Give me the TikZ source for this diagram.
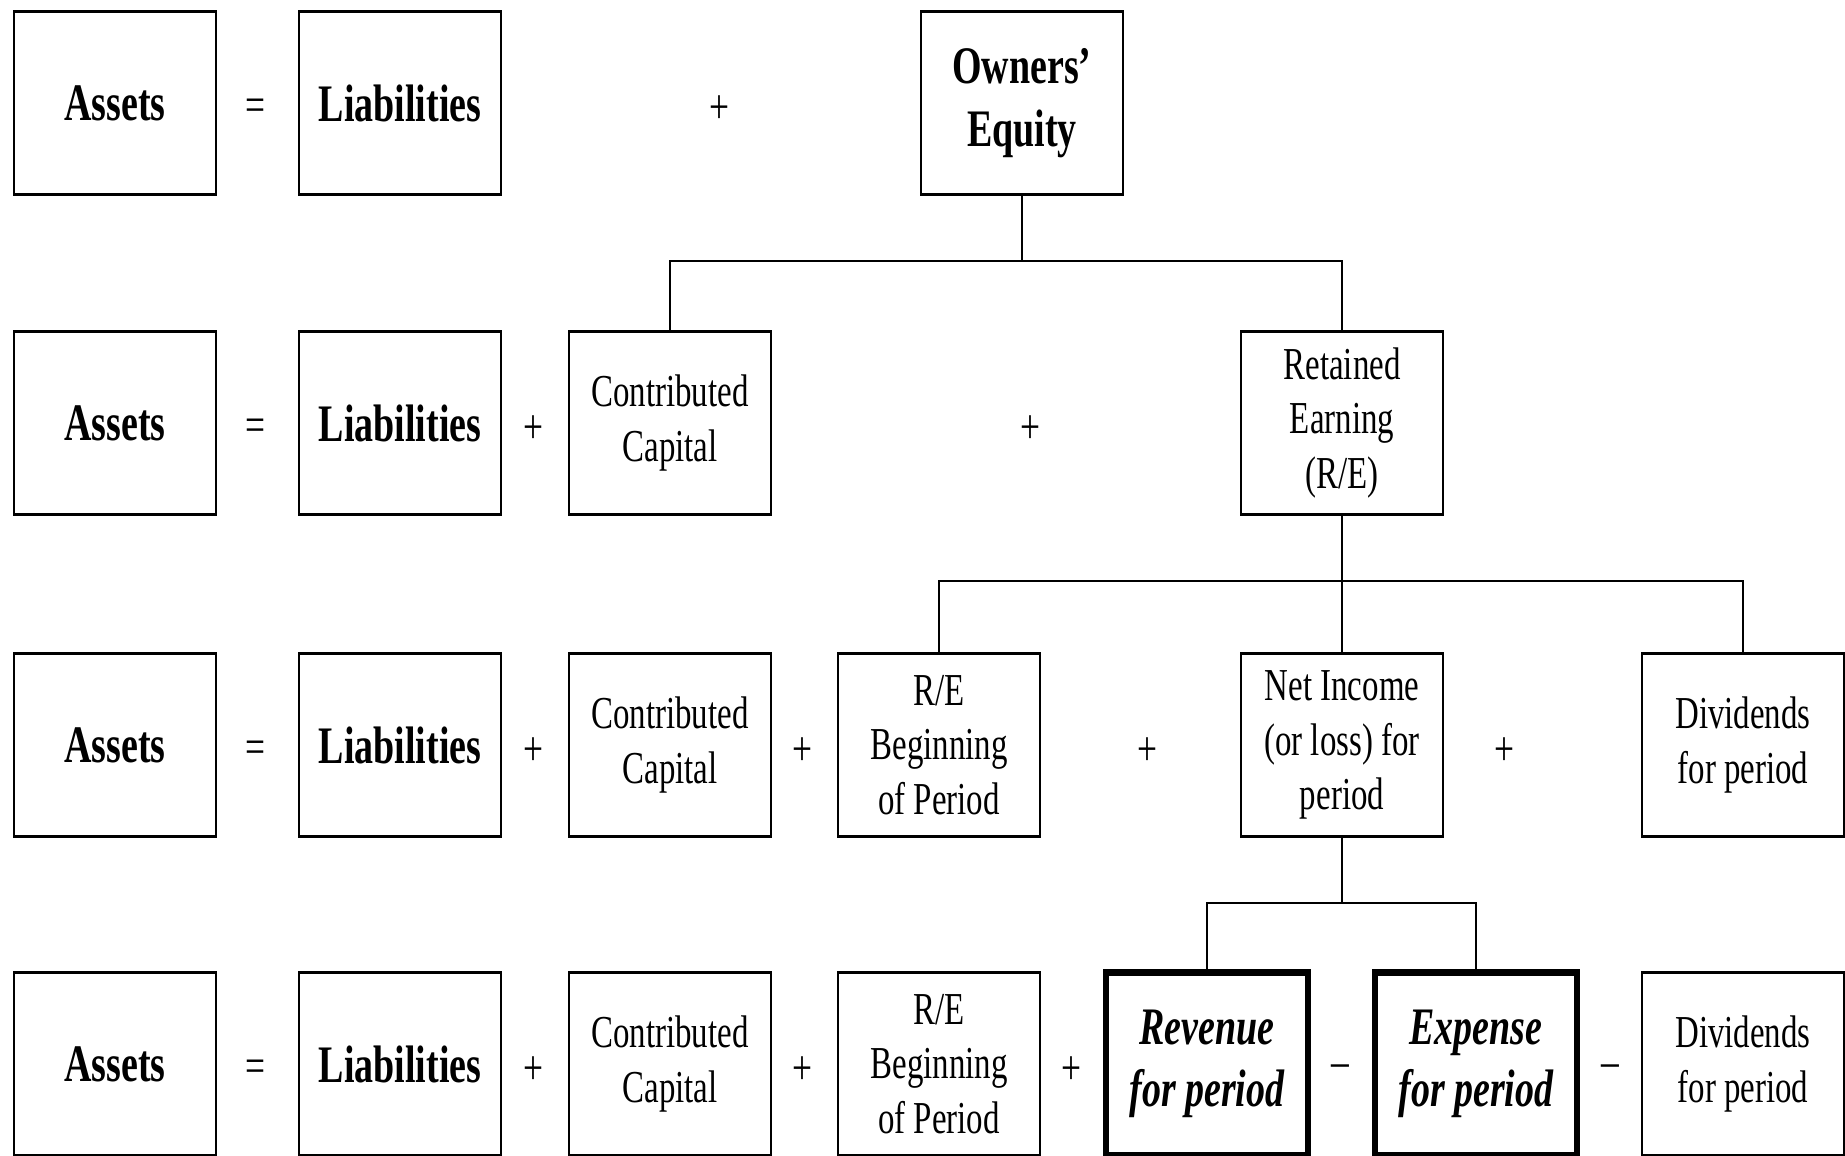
\documentclass[tikz,border=0pt]{standalone}
\usepackage{fontspec}
\setmainfont[FakeStretch=0.72]{Liberation Serif}

\begin{document}
\begin{tikzpicture}[
  box/.style={draw, line width=0.8pt, minimum width=2.02cm, minimum height=1.83cm,
    align=center, inner sep=1pt, font=\fontsize{13}{15.5}\selectfont},
  bigbox/.style={box, font=\fontsize{15}{18}\selectfont\bfseries},
  keybox/.style={box, line width=1.8pt, font=\fontsize{15}{17.5}\selectfont\bfseries\itshape},
  op/.style={yshift=-0.07cm, font=\fontsize{14}{15}\selectfont},
  link/.style={line width=0.7pt}
]
\useasboundingbox (0,0) rectangle (18.45,-11.56);

% Assets = Liabilities on every row
\foreach \r/\y in {1/-1.03,2/-4.23,3/-7.45,4/-10.64} {
  \node[bigbox] (assets\r) at (1.15,\y) {Assets};
  \node[op] (eq\r) at (2.55,\y) {=};
  \node[bigbox] (liab\r) at (4.00,\y) {Liabilities};
}

% Row 1
\node[op] (p11) at (7.19,-1.03) {+};
\node[bigbox] (oe) at (10.22,-1.03) {Owners'\\Equity};

% Row 2
\node[op] (p21) at (5.33,-4.23) {+};
\node[box] (cc2) at (6.70,-4.23) {Contributed\\Capital};
\node[op] (p22) at (10.30,-4.23) {+};
\node[box] (re2) at (13.42,-4.23) {Retained\\Earning\\(R/E)};

% Row 3
\node[op] (p31) at (5.33,-7.45) {+};
\node[box] (cc3) at (6.70,-7.45) {Contributed\\Capital};
\node[op] (p32) at (8.02,-7.45) {+};
\node[box] (rb3) at (9.39,-7.45) {R/E\\Beginning\\of Period};
\node[op] (p33) at (11.47,-7.45) {+};
\node[box] (ni3) at (13.42,-7.45) {Net Income\\(or loss) for\\period};
\node[op] (p34) at (15.04,-7.45) {+};
\node[box] (dv3) at (17.43,-7.45) {Dividends\\for period};

% Row 4
\node[op] (p41) at (5.33,-10.64) {+};
\node[box] (cc4) at (6.70,-10.64) {Contributed\\Capital};
\node[op] (p42) at (8.02,-10.64) {+};
\node[box] (rb4) at (9.39,-10.64) {R/E\\Beginning\\of Period};
\node[op] (p43) at (10.71,-10.64) {+};
\node[keybox] (rev4) at (12.07,-10.64) {Revenue\\for period};
\node[op] (m41) at (13.40,-10.64) {\textendash};
\node[keybox] (exp4) at (14.76,-10.64) {Expense\\for period};
\node[op] (m42) at (16.10,-10.64) {\textendash};
\node[box] (dv4) at (17.43,-10.64) {Dividends\\for period};

% Bus lines
\coordinate (bus1) at (0,-2.61);
\coordinate (bus2) at (0,-5.81);
\coordinate (bus3) at (0,-9.03);

\draw[link] (oe.south) -- (oe.south |- bus1);
\draw[link] (cc2.north) |- (re2.north |- bus1) -- (re2.north);

\draw[link] (re2.south) -- (ni3.north);
\draw[link] (rb3.north) |- (dv3.north |- bus2) -- (dv3.north);

\draw[link] (ni3.south) -- (ni3.south |- bus3);
\draw[link] (rev4.north) |- (exp4.north |- bus3) -- (exp4.north);

\end{tikzpicture}
\end{document}
